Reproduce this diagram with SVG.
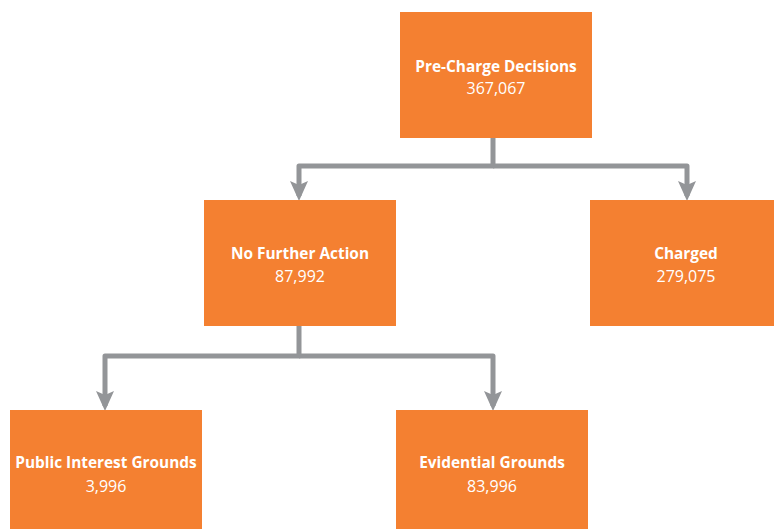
<svg xmlns="http://www.w3.org/2000/svg" width="774" height="529" viewBox="0 0 774 529">
<style>
.box{fill:#F48031;}
.t{font-family:"Open Sans","Liberation Sans",sans-serif;font-size:16px;fill:#FFFFFF;text-anchor:middle;}
.b{font-weight:bold;font-size:15.4px;}
.c{fill:none;stroke:#939598;stroke-width:5;stroke-linejoin:round;}
</style>
<defs>
<marker id="ah" markerUnits="userSpaceOnUse" markerWidth="20" markerHeight="18" viewBox="0 0 20 18" refX="15" refY="9" orient="auto">
<path d="M0,0 L20,9 L0,18 L4,9 z" fill="#939598"/>
</marker>
</defs>
<rect width="774" height="529" fill="#FFFFFF"/>
<g id="connectors">
<path class="c" d="M493,138 V166 H299 V196" marker-end="url(#ah)"/>
<path class="c" d="M493,166 H687 V196" marker-end="url(#ah)"/>
<path class="c" d="M299,326 V356 H105 V406" marker-end="url(#ah)"/>
<path class="c" d="M299,356 H493 V406" marker-end="url(#ah)"/>
</g>
<g id="pre-charge">
<rect class="box" x="400" y="12" width="192" height="126"/>
<text class="t b" x="496" y="72">Pre-Charge Decisions</text>
<text class="t" x="496" y="94">367,067</text>
</g>
<g id="nfa">
<rect class="box" x="204" y="200" width="192" height="126"/>
<text class="t b" x="300" y="259">No Further Action</text>
<text class="t" x="300" y="282">87,992</text>
</g>
<g id="charged">
<rect class="box" x="590" y="200" width="192" height="126"/>
<text class="t b" x="686" y="259">Charged</text>
<text class="t" x="686" y="282">279,075</text>
</g>
<g id="public-interest">
<rect class="box" x="10" y="410" width="192" height="126"/>
<text class="t b" x="106" y="468">Public Interest Grounds</text>
<text class="t" x="106" y="492">3,996</text>
</g>
<g id="evidential">
<rect class="box" x="396" y="410" width="192" height="126"/>
<text class="t b" x="492" y="468">Evidential Grounds</text>
<text class="t" x="492" y="492">83,996</text>
</g>
</svg>
